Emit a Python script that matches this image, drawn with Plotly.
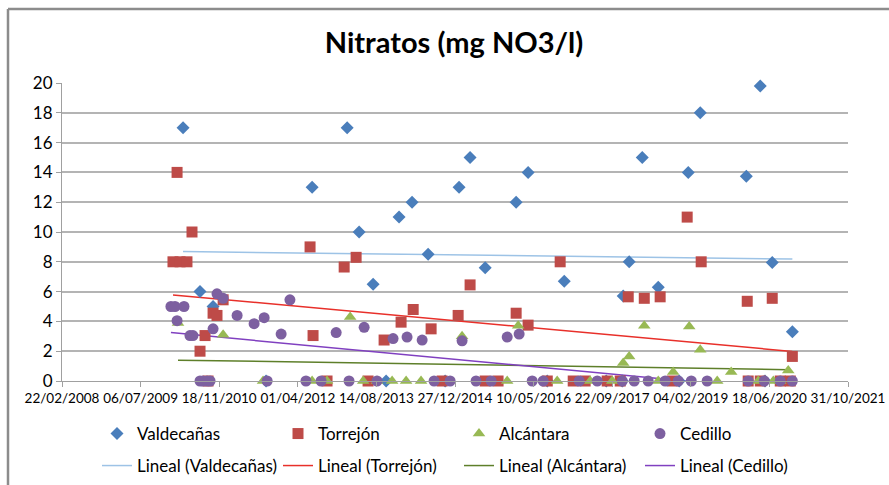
import numpy as np
import pandas as pd
import plotly.graph_objects as go

# ---------------- data ----------------
valdecanas_dates = ["2010-04-02", "2010-07-19", "2010-10-10", "2011-09-12", "2012-07-01",
                    "2013-02-09", "2013-04-26", "2013-07-24", "2013-10-15", "2014-01-05",
                    "2014-03-29", "2014-07-09", "2014-10-25", "2015-01-22", "2015-04-02", "2015-07-07",
                    "2016-01-20", "2016-04-05", "2016-08-05", "2016-11-21", "2017-08-15", "2017-11-25",
                    "2017-12-01", "2018-01-08", "2018-04-01", "2018-07-12", "2018-11-22", "2019-01-19",
                    "2019-04-05", "2020-01-23", "2020-04-21", "2020-05-21", "2020-07-06", "2020-11-11"]
valdecanas_vals = [17.0, 6.0, 5.0, 0, 13.0,
                   17.0, 10.0, 6.5, 0, 11.0,
                   12.0, 8.5, 0, 13.0, 15.0, 7.6,
                   12.0, 14.0, 0, 6.7, 0, 0,
                   5.7, 8.0, 15.0, 6.3, 0, 14.0,
                   18.0, 13.75, 19.8, 0, 7.95, 3.3]

torrejon_dates = ["2010-01-28", "2010-02-23", "2010-03-14", "2010-04-27", "2010-05-29", "2010-07-19",
                  "2010-08-20", "2010-09-08", "2010-10-10", "2010-11-04", "2010-12-13", "2012-06-18",
                  "2012-07-07", "2012-10-04", "2013-01-21", "2013-04-07", "2013-06-22", "2013-10-02",
                  "2014-01-18", "2014-04-05", "2014-07-28", "2014-10-06", "2015-01-16", "2015-04-02",
                  "2015-07-07", "2015-09-27", "2016-01-20", "2016-04-05", "2016-08-05", "2016-10-26",
                  "2017-01-17", "2017-04-03", "2017-08-21", "2017-11-12", "2018-01-02", "2018-04-14",
                  "2018-07-24", "2018-10-09", "2019-01-12", "2019-04-11", "2020-01-29", "2020-02-04",
                  "2020-04-21", "2020-07-06", "2020-08-26", "2020-10-29", "2020-11-11"]
torrejon_vals = [8.0, 14.0, 8.0, 8.0, 10.0, 2.0,
                 3.05, 0, 4.55, 4.4, 5.45, 9.0,
                 3.05, 0, 7.65, 8.3, 0, 2.75,
                 3.95, 4.8, 3.5, 0, 4.4, 6.45,
                 0, 0, 4.55, 3.75, 0, 8.0,
                 0, 0, 0, 0, 5.65, 5.55,
                 5.65, 0, 11.0, 8.0, 5.35, 0,
                 0, 5.55, 0, 0, 1.65]

alcantara_dates = ["2010-03-01", "2010-09-02", "2010-12-13", "2011-08-24", "2012-07-01",
                   "2012-10-04", "2013-02-28", "2013-05-22", "2013-08-18", "2013-11-22", "2014-02-19",
                   "2014-05-25", "2015-02-10", "2015-11-24", "2016-02-02", "2016-10-07",
                   "2017-05-05", "2017-09-22", "2017-12-01", "2018-01-08", "2018-04-14", "2018-07-12",
                   "2018-10-15", "2019-01-25", "2019-04-05", "2019-07-22", "2019-10-19", "2020-04-08",
                   "2020-07-13", "2020-08-26", "2020-10-16"]
alcantara_vals = [3.9, 0, 3.1, 0, 0,
                  0, 4.3, 0, 0, 0, 0,
                  0, 3.0, 0, 3.7, 0,
                  0, 0, 1.2, 1.65, 3.7, 0,
                  0.6, 3.65, 2.1, 0, 0.6, 0,
                  0, 0, 0.7]

cedillo_dates = ["2010-01-15", "2010-02-10", "2010-02-23", "2010-04-08", "2010-05-16", "2010-06-04",
                 "2010-07-19", "2010-08-07", "2010-09-02", "2010-09-21", "2010-10-10", "2010-11-04",
                 "2010-12-13", "2011-03-12", "2011-06-28", "2011-08-31", "2011-09-19", "2011-12-17",
                 "2012-02-11", "2012-05-23", "2012-08-27", "2012-12-01", "2013-02-21", "2013-05-28",
                 "2013-08-18", "2013-11-28", "2014-02-25", "2014-06-01", "2014-08-16", "2014-11-26",
                 "2015-02-10", "2015-05-10", "2015-08-14", "2015-11-24", "2016-02-08", "2016-05-01",
                 "2016-07-10", "2017-02-24", "2017-06-19", "2017-11-25", "2018-02-09", "2018-05-09",
                 "2018-08-25", "2018-11-16", "2019-02-07", "2019-05-19", "2020-02-04", "2020-05-16",
                 "2020-08-26", "2020-11-11"]
cedillo_vals = [5.0, 5.0, 4.05, 5.0, 3.05, 3.05,
                0, 0, 0, 0, 3.5, 5.85,
                5.55, 4.4, 3.85, 4.25, 0, 3.15,
                5.45, 0, 0, 3.25, 0, 3.6,
                0, 2.85, 2.95, 2.75, 0, 0,
                2.7, 0, 0, 2.95, 3.15, 0,
                0, 0, 0, 0, 0, 0,
                0, 0, 0, 0, 0, 0,
                0, 0]

series_names = ["Valdecañas", "Torrejón", "Alcántara", "Cedillo"]
x_tick_start = "2008-02-22"
x_tick_end = "2021-10-31"
x_tick_days = 500
y_ticks = [0, 2, 4, 6, 8, 10, 12, 14, 16, 18, 20]

# ---------------- styles ----------------
marker_colors = ["#4A7EBB", "#BE4B48", "#98B954", "#7D60A0"]
marker_symbols = ["diamond", "square", "triangle-up", "circle"]
marker_sizes = [10, 11, 11, 11]
trend_colors = ["#9DC3E6", "#E8302A", "#5E7F2A", "#8040C0"]
FONT = "Lato"

all_series = [
    (valdecanas_dates, valdecanas_vals),
    (torrejon_dates, torrejon_vals),
    (alcantara_dates, alcantara_vals),
    (cedillo_dates, cedillo_vals),
]

fig = go.Figure()

# trend lines (least squares, like Excel "Lineal")
for name, (d, v), col in zip(series_names, all_series, trend_colors):
    dt = pd.to_datetime(d)
    t = (dt - pd.Timestamp("2000-01-01")).days.values.astype(float)
    slope, intercept = np.polyfit(t, np.array(v, dtype=float), 1)
    tx = np.array([t.min(), t.max()])
    ty = slope * tx + intercept
    xd = [pd.Timestamp("2000-01-01") + pd.Timedelta(days=float(k)) for k in tx]
    fig.add_trace(go.Scatter(x=xd, y=ty, mode="lines", name=f"Lineal ({name})",
                             line=dict(color=col, width=1.5), legend="legend2",
                             hoverinfo="skip"))

for name, (d, v), col, sym, sz in zip(series_names, all_series, marker_colors, marker_symbols, marker_sizes):
    fig.add_trace(go.Scatter(x=pd.to_datetime(d), y=v, mode="markers", name=name,
                             marker=dict(color=col, symbol=sym, size=sz, line=dict(width=0)),
                             cliponaxis=False, legend="legend"))

W, H = 889, 485
ml, mr, mt, mb = 62, 41, 83, 104
pw, ph = W - ml - mr, H - mt - mb

def px2paper_x(px):
    return (px - ml) / pw

def px2paper_y(py):
    return (H - mb - py) / ph

fig.update_layout(
    width=W, height=H,
    margin=dict(l=ml, r=mr, t=mt, b=mb, pad=0, autoexpand=False),
    paper_bgcolor="white", plot_bgcolor="white",
    font=dict(family=FONT, size=13, color="#000000"),
    title=dict(text="<b>Nitratos (mg NO3/l)</b>", x=px2paper_x(454), xref="paper", xanchor="center",
               y=1 - 43 / H, yanchor="middle", font=dict(family=FONT, size=29, color="#000000")),
    xaxis=dict(type="date",
               range=[x_tick_start, x_tick_end],
               tick0=x_tick_start, dtick=x_tick_days * 86400000,
               tickformat="%d/%m/%Y", ticks="outside", ticklen=5, tickcolor="#A0A0A0",
               showgrid=False, showline=True, linecolor="#A0A0A0", linewidth=1,
               zeroline=False, tickfont=dict(family=FONT, size=13.5), fixedrange=True),
    yaxis=dict(range=[0, 20], tickvals=y_ticks, ticks="outside", ticklen=5, tickcolor="#A0A0A0",
               showgrid=True, gridcolor="#B4B4B4", gridwidth=1.5,
               showline=True, linecolor="#A0A0A0", linewidth=1, zeroline=False,
               tickfont=dict(family=FONT, size=17), fixedrange=True),
    legend=dict(orientation="h", x=px2paper_x(97), xanchor="left", y=px2paper_y(434), yanchor="middle",
                entrywidth=136, entrywidthmode="pixels", font=dict(family=FONT, size=17),
                bgcolor="rgba(0,0,0,0)", traceorder="normal"),
    legend2=dict(orientation="h", x=px2paper_x(97), xanchor="left", y=px2paper_y(466), yanchor="middle",
                 entrywidth=136, entrywidthmode="pixels", font=dict(family=FONT, size=17),
                 bgcolor="rgba(0,0,0,0)", traceorder="normal"),
    showlegend=True,
)

# chart-area frame (left and top edges visible in the reference)
fig.add_shape(type="line", xref="paper", yref="paper",
              x0=px2paper_x(8), x1=px2paper_x(8), y0=px2paper_y(490), y1=px2paper_y(9),
              line=dict(color="#8C8C8C", width=2.5))
fig.add_shape(type="line", xref="paper", yref="paper",
              x0=px2paper_x(8), x1=px2paper_x(895), y0=px2paper_y(9), y1=px2paper_y(9),
              line=dict(color="#8C8C8C", width=2.5))

fig.write_html("out.html")
